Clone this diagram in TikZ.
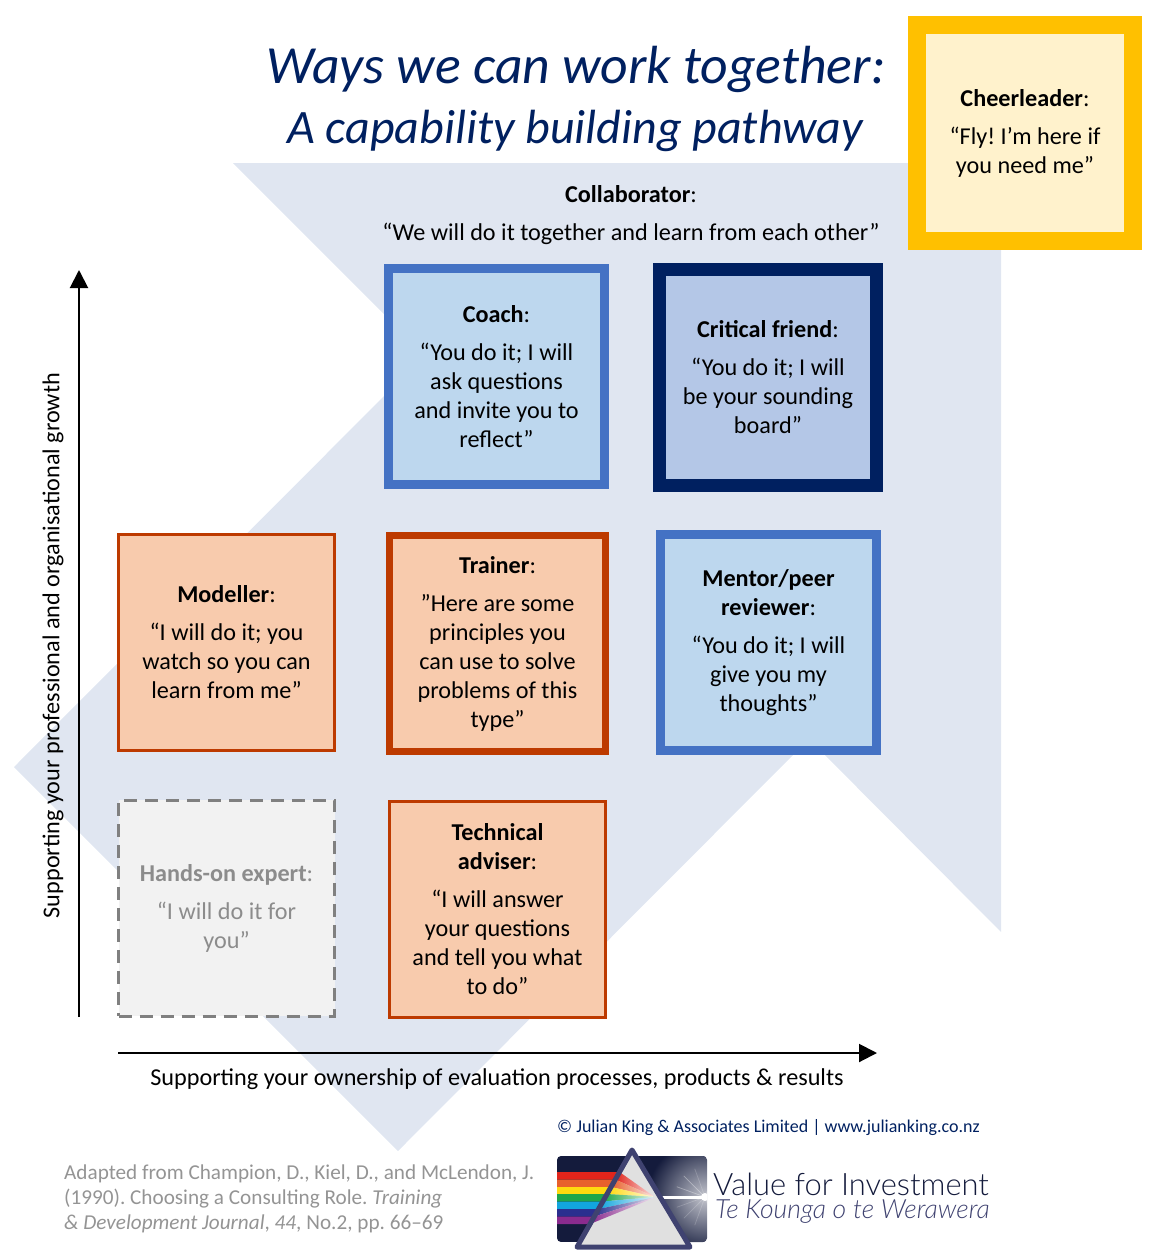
\documentclass[tikz,border=0pt]{standalone}
\usepackage{fontspec}
\setmainfont{Carlito}
\newfontfamily\logofont{Lato Light}
\usetikzlibrary{arrows.meta,shadings}
\definecolor{navy}{HTML}{002060}
\definecolor{paleblue}{HTML}{E0E6F1}
\definecolor{rust}{HTML}{BD3A00}
\definecolor{peach}{HTML}{F8CBAD}
\definecolor{midblue}{HTML}{4472C4}
\definecolor{skyblue}{HTML}{BDD7EE}
\definecolor{slateblue}{HTML}{B4C7E7}
\definecolor{amber}{HTML}{FFC000}
\definecolor{cream}{HTML}{FFF2CC}
\definecolor{logodark}{HTML}{141B3C}
\definecolor{logoedge}{HTML}{3F4270}
\frenchspacing
\tikzset{
  role/.style={draw,align=center,inner sep=0pt,font=\fontsize{24.2}{29}\selectfont},
  trainee/.style={role,draw=rust,fill=peach,line width=3pt,minimum width=216pt,minimum height=216pt},
  blueb/.style={role,draw=midblue,fill=skyblue,line width=9pt,minimum width=216pt,minimum height=216pt},
  axis/.style={draw=black,line width=2pt,-{Triangle[length=18pt,width=18pt]}},
}
\begin{document}
\begin{tikzpicture}[x=1pt,y=-1pt]
\useasboundingbox (0,0) rectangle (1158,1256);
\fill[paleblue] (233,163) -- (1001,163) -- (1001,932) -- (809,739) -- (398,1151) -- (14,767) -- (425,355) -- cycle;
\node[text=navy,font=\fontsize{53.7}{62}\selectfont\itshape,anchor=base,inner sep=0pt] (title) at (576,83) {Ways we can work together:};
\node[text=navy,font=\fontsize{48}{62}\selectfont\itshape,anchor=base,inner sep=0pt] (subtitle) at (575,143) {A capability building pathway};
\node[role,draw=none] (collaborator) at (631,215) {\textbf{Collaborator}:\\[9pt]“We will do it together and learn from each other”};
\node[role,draw=amber,fill=cream,line width=18pt,minimum width=216pt,minimum height=216pt] (cheerleader) at (1025,133) {\textbf{Cheerleader}:\\[9pt]“Fly! I’m here if\\you need me”};
\node[blueb] (coach) at (496.5,376.5) {\textbf{Coach}:\\[9pt]“You do it; I will\\ask questions\\and invite you to\\reflect”};
\node[role,draw=navy,fill=slateblue,line width=13pt,minimum width=216.5pt,minimum height=216pt] (friend) at (768,377) {\textbf{Critical friend}:\\[9pt]“You do it; I will\\be your sounding\\board”};
\node[trainee] (modeller) at (226.5,642.5) {\textbf{Modeller}:\\[9pt]“I will do it; you\\watch so you can\\learn from me”};
\node[trainee,line width=7pt,minimum width=216pt] (trainer) at (497.5,643.5) {\textbf{Trainer}:\\[9pt]”Here are some\\principles you\\can use to solve\\problems of this\\type”};
\node[blueb] (mentor) at (768.5,642.5) {\textbf{Mentor/peer}\\\textbf{reviewer}:\\[9pt]“You do it; I will\\give you my\\thoughts”};
\node[role,draw=black!50,dash pattern=on 13pt off 8pt,fill=black!5,text=black!45,line width=3pt,minimum width=216pt,minimum height=216pt] (expert) at (226.5,908) {\textbf{Hands-on expert}:\\[9pt]“I will do it for\\you”};
\node[trainee,minimum height=216pt] (adviser) at (497.5,909.5) {\textbf{Technical}\\\textbf{adviser}:\\[9pt]“I will answer\\your questions\\and tell you what\\to do”};
\coordinate (ybase) at (79,1017);
\coordinate (ytip) at (79,270);
\coordinate (xbase) at (118,1053);
\coordinate (xtip) at (877,1053);
\draw[axis] (ybase) -- (ytip);
\draw[axis] (xbase) -- (xtip);
\node[font=\fontsize{24.2}{29}\selectfont,rotate=90] (ylabel) at (53,645.5) {Supporting your professional and organisational growth};
\node[font=\fontsize{24.2}{29}\selectfont] (xlabel) at (497,1079) {Supporting your ownership of evaluation processes, products \& results};
\node[font=\fontsize{18}{20}\selectfont,text=navy,anchor=west,inner sep=0pt] (copyright) at (557,1128) {© Julian King \& Associates Limited | www.julianking.co.nz};
\node[font=\fontsize{21.2}{25}\selectfont,text=black!42,align=left,anchor=north west,inner sep=0pt] (source) at (64,1165) {Adapted from Champion, D., Kiel, D., and McLendon, J.\\(1990). Choosing a Consulting Role. \textit{Training}\\\textit{\& Development Journal}, \textit{44}, No.2, pp. 66–69};
\coordinate (apex) at (632,1150);
\coordinate (baseleft) at (577,1247);
\coordinate (baseright) at (690,1247);
\coordinate (focus) at (653,1197);
\begin{scope}
\clip[rounded corners=4pt] (557,1156) rectangle (707,1242);
\fill[logodark] (557,1156) rectangle (707,1242);
\shade[inner color=white!75!logodark,outer color=logodark] (705,1197) circle (58);
\foreach \a in {-160,-135,-110,-70,-45,-20,20,45,70,110,135,160,200,225}
  \draw[white,opacity=.2,line width=.7pt] (705,1197) -- ++(\a:30);
\fill[white] (705,1197) circle (4);
\end{scope}
\draw[white,line width=3pt] (focus) -- (707,1197);
\fill[black!12] (apex) -- (baseleft) -- (baseright) -- cycle;
\foreach \a/\b/\col in {1172/1179.5/E1251B,1179.5/1187/E8602C,1187/1194/FFD90F,1194/1201.5/1FA64A,1201.5/1209/12A5DE,1209/1216.5/2B2F8F,1216.5/1224/8A2B8E}{
  \definecolor{band}{HTML}{\col}
  \fill[band] (557,\a) -- ({632-0.567*(\a-1150)},\a) -- ({632-0.567*(\b-1150)},\b) -- (557,\b) -- cycle;
  \shade[left color=band,right color=white!85!band] ({632-0.567*(\a-1150)},\a) -- (653,{1197+(\a-1198)*0.05}) -- (653,{1197+(\b-1198)*0.05}) -- ({632-0.567*(\b-1150)},\b) -- cycle;
}
\draw[logoedge,line width=5pt,line join=round] (apex) -- (baseleft) -- (baseright) -- cycle;
\node[font=\logofont\fontsize{30.9}{35}\selectfont,text=logodark,anchor=base west,inner sep=0pt] (logotop) at (713,1195) {Value for Investment};
\node[font=\logofont\itshape\fontsize{26.5}{29}\selectfont,text=logoedge,anchor=base west,inner sep=0pt] (logobottom) at (715,1218) {Te Kounga o te Werawera};
\end{tikzpicture}
\end{document}
